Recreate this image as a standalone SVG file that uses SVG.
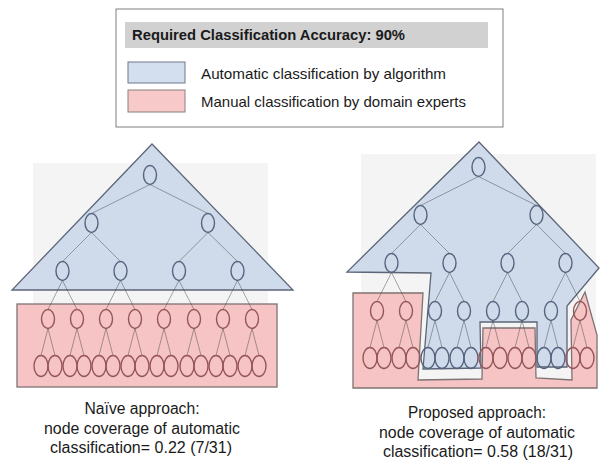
<svg xmlns="http://www.w3.org/2000/svg" width="603" height="462" viewBox="0 0 603 462">
<style>
.txt{font-family:"Liberation Sans",Arial,sans-serif;fill:#1a1a1a}
.bg{fill:#f4f4f4}
.blue{fill:#cfdaeb;stroke:#5c6577;stroke-width:1.3;stroke-linejoin:miter}
.pink{fill:#f6c4c4;stroke:#7f7272;stroke-width:1.3}
.nb{fill:none;stroke:#56657f;stroke-width:1.4}
.np{fill:none;stroke:#95565a;stroke-width:1.4}
#edges line{stroke:#404040;stroke-opacity:0.45;stroke-width:1}
</style>
<rect width="603" height="462" fill="#ffffff"/>
<g id="legend">
<rect x="116" y="9" width="387" height="118" fill="#ffffff" stroke="#7f7f7f" stroke-width="1"/>
<rect x="125" y="22" width="363" height="26" fill="#d1d1d1"/>
<text class="txt" x="132" y="40" font-size="15" font-weight="bold" textLength="273" lengthAdjust="spacingAndGlyphs">Required Classification Accuracy: 90%</text>
<rect x="128" y="62" width="57" height="21" fill="#d3deef" stroke="#6d7a8c" stroke-width="1"/>
<text class="txt" x="201" y="79" font-size="15" textLength="245" lengthAdjust="spacingAndGlyphs">Automatic classification by algorithm</text>
<rect x="128" y="90" width="57" height="22" fill="#f8c9c9" stroke="#8b7e7e" stroke-width="1"/>
<text class="txt" x="201" y="107" font-size="15" textLength="265" lengthAdjust="spacingAndGlyphs">Manual classification by domain experts</text>
</g>
<g id="regions">
<rect class="bg" x="33" y="163" width="235" height="224"/>
<polygon id="left-auto" class="blue" points="152,144 293,290 12,290"/>
<rect id="left-manual" class="pink" x="17" y="304" width="260" height="83"/>
<rect class="bg" x="361" y="154" width="235" height="234"/>
<polygon id="right-manual" class="pink" points="353,293 423,293 418,380 482,379 483,328 535,328 536,378 572,380 571,320 585,292 597,335 597,388 353,388"/>
<polygon id="right-auto" class="blue" points="479,142 599,268 567,306 567,367 537,367 537,322 480,322 481,368 423,369 431,273 347,272"/>
</g>
<g id="edges">
<line x1="150" y1="184.5" x2="91.5" y2="213.5"/><line x1="150" y1="184.5" x2="208" y2="213.5"/>
<line x1="91.5" y1="232.5" x2="62.5" y2="261.5"/><line x1="91.5" y1="232.5" x2="120.5" y2="261.5"/>
<line x1="208" y1="232.5" x2="179" y2="261.5"/><line x1="208" y1="232.5" x2="237.5" y2="261.5"/>
<line x1="62.5" y1="280.5" x2="48" y2="309.5"/><line x1="62.5" y1="280.5" x2="77" y2="309.5"/>
<line x1="120.5" y1="280.5" x2="106" y2="309.5"/><line x1="120.5" y1="280.5" x2="135" y2="309.5"/>
<line x1="179" y1="280.5" x2="164" y2="309.5"/><line x1="179" y1="280.5" x2="194" y2="309.5"/>
<line x1="237.5" y1="280.5" x2="223" y2="309.5"/><line x1="237.5" y1="280.5" x2="252" y2="309.5"/>
<line x1="48" y1="328.5" x2="41" y2="355.5"/><line x1="48" y1="328.5" x2="55" y2="355.5"/>
<line x1="77" y1="328.5" x2="70" y2="355.5"/><line x1="77" y1="328.5" x2="84" y2="355.5"/>
<line x1="106" y1="328.5" x2="99" y2="355.5"/><line x1="106" y1="328.5" x2="113" y2="355.5"/>
<line x1="135" y1="328.5" x2="128" y2="355.5"/><line x1="135" y1="328.5" x2="142" y2="355.5"/>
<line x1="164" y1="328.5" x2="157" y2="355.5"/><line x1="164" y1="328.5" x2="171" y2="355.5"/>
<line x1="194" y1="328.5" x2="187" y2="355.5"/><line x1="194" y1="328.5" x2="201" y2="355.5"/>
<line x1="223" y1="328.5" x2="216" y2="355.5"/><line x1="223" y1="328.5" x2="230" y2="355.5"/>
<line x1="252" y1="328.5" x2="245" y2="355.5"/><line x1="252" y1="328.5" x2="259" y2="355.5"/>
<line x1="478.5" y1="176.5" x2="420.5" y2="205.5"/><line x1="478.5" y1="176.5" x2="536.5" y2="205.5"/>
<line x1="420.5" y1="224.5" x2="391.5" y2="253.5"/><line x1="420.5" y1="224.5" x2="449.5" y2="253.5"/>
<line x1="536.5" y1="224.5" x2="507.5" y2="253.5"/><line x1="536.5" y1="224.5" x2="565.5" y2="253.5"/>
<line x1="391.5" y1="272.5" x2="377" y2="301.5"/><line x1="391.5" y1="272.5" x2="406" y2="301.5"/>
<line x1="449.5" y1="272.5" x2="435" y2="301.5"/><line x1="449.5" y1="272.5" x2="464" y2="301.5"/>
<line x1="507.5" y1="272.5" x2="493" y2="301.5"/><line x1="507.5" y1="272.5" x2="522" y2="301.5"/>
<line x1="565.5" y1="272.5" x2="551" y2="301.5"/><line x1="565.5" y1="272.5" x2="580" y2="301.5"/>
<line x1="377" y1="320.5" x2="370" y2="347.5"/><line x1="377" y1="320.5" x2="384" y2="347.5"/>
<line x1="406" y1="320.5" x2="399" y2="347.5"/><line x1="406" y1="320.5" x2="413" y2="347.5"/>
<line x1="435" y1="320.5" x2="428" y2="347.5"/><line x1="435" y1="320.5" x2="442" y2="347.5"/>
<line x1="464" y1="320.5" x2="457" y2="347.5"/><line x1="464" y1="320.5" x2="471" y2="347.5"/>
<line x1="493" y1="320.5" x2="486" y2="347.5"/><line x1="493" y1="320.5" x2="500" y2="347.5"/>
<line x1="522" y1="320.5" x2="515" y2="347.5"/><line x1="522" y1="320.5" x2="529" y2="347.5"/>
<line x1="551" y1="320.5" x2="544" y2="347.5"/><line x1="551" y1="320.5" x2="558" y2="347.5"/>
<line x1="580" y1="320.5" x2="573" y2="347.5"/><line x1="580" y1="320.5" x2="587" y2="347.5"/>
</g>
<g id="left-tree">
<g id="L-n1"><ellipse class="nb" cx="150" cy="175" rx="6.5" ry="9.5"/></g>
<g id="L-n2"><ellipse class="nb" cx="91.5" cy="223" rx="6.5" ry="9.5"/></g>
<g id="L-n3"><ellipse class="nb" cx="208" cy="223" rx="6.5" ry="9.5"/></g>
<g id="L-n4"><ellipse class="nb" cx="62.5" cy="271" rx="6.5" ry="9.5"/></g>
<g id="L-n5"><ellipse class="nb" cx="120.5" cy="271" rx="6.5" ry="9.5"/></g>
<g id="L-n6"><ellipse class="nb" cx="179" cy="271" rx="6.5" ry="9.5"/></g>
<g id="L-n7"><ellipse class="nb" cx="237.5" cy="271" rx="6.5" ry="9.5"/></g>
<g id="L-n8"><ellipse class="np" cx="48" cy="319" rx="6.5" ry="9.5"/></g>
<g id="L-n9"><ellipse class="np" cx="77" cy="319" rx="6.5" ry="9.5"/></g>
<g id="L-n10"><ellipse class="np" cx="106" cy="319" rx="6.5" ry="9.5"/></g>
<g id="L-n11"><ellipse class="np" cx="135" cy="319" rx="6.5" ry="9.5"/></g>
<g id="L-n12"><ellipse class="np" cx="164" cy="319" rx="6.5" ry="9.5"/></g>
<g id="L-n13"><ellipse class="np" cx="194" cy="319" rx="6.5" ry="9.5"/></g>
<g id="L-n14"><ellipse class="np" cx="223" cy="319" rx="6.5" ry="9.5"/></g>
<g id="L-n15"><ellipse class="np" cx="252" cy="319" rx="6.5" ry="9.5"/></g>
<g id="L-n16"><ellipse class="np" cx="41" cy="366" rx="7" ry="10.5"/></g>
<g id="L-n17"><ellipse class="np" cx="55" cy="366" rx="7" ry="10.5"/></g>
<g id="L-n18"><ellipse class="np" cx="70" cy="366" rx="7" ry="10.5"/></g>
<g id="L-n19"><ellipse class="np" cx="84" cy="366" rx="7" ry="10.5"/></g>
<g id="L-n20"><ellipse class="np" cx="99" cy="366" rx="7" ry="10.5"/></g>
<g id="L-n21"><ellipse class="np" cx="113" cy="366" rx="7" ry="10.5"/></g>
<g id="L-n22"><ellipse class="np" cx="128" cy="366" rx="7" ry="10.5"/></g>
<g id="L-n23"><ellipse class="np" cx="142" cy="366" rx="7" ry="10.5"/></g>
<g id="L-n24"><ellipse class="np" cx="157" cy="366" rx="7" ry="10.5"/></g>
<g id="L-n25"><ellipse class="np" cx="171" cy="366" rx="7" ry="10.5"/></g>
<g id="L-n26"><ellipse class="np" cx="187" cy="366" rx="7" ry="10.5"/></g>
<g id="L-n27"><ellipse class="np" cx="201" cy="366" rx="7" ry="10.5"/></g>
<g id="L-n28"><ellipse class="np" cx="216" cy="366" rx="7" ry="10.5"/></g>
<g id="L-n29"><ellipse class="np" cx="230" cy="366" rx="7" ry="10.5"/></g>
<g id="L-n30"><ellipse class="np" cx="245" cy="366" rx="7" ry="10.5"/></g>
<g id="L-n31"><ellipse class="np" cx="259" cy="366" rx="7" ry="10.5"/></g>
</g>
<g id="right-tree">
<g id="R-n1"><ellipse class="nb" cx="478.5" cy="167" rx="6.5" ry="9.5"/></g>
<g id="R-n2"><ellipse class="nb" cx="420.5" cy="215" rx="6.5" ry="9.5"/></g>
<g id="R-n3"><ellipse class="nb" cx="536.5" cy="215" rx="6.5" ry="9.5"/></g>
<g id="R-n4"><ellipse class="nb" cx="391.5" cy="263" rx="6.5" ry="9.5"/></g>
<g id="R-n5"><ellipse class="nb" cx="449.5" cy="263" rx="6.5" ry="9.5"/></g>
<g id="R-n6"><ellipse class="nb" cx="507.5" cy="263" rx="6.5" ry="9.5"/></g>
<g id="R-n7"><ellipse class="nb" cx="565.5" cy="263" rx="6.5" ry="9.5"/></g>
<g id="R-n8"><ellipse class="np" cx="377" cy="311" rx="6.5" ry="9.5"/></g>
<g id="R-n9"><ellipse class="np" cx="406" cy="311" rx="6.5" ry="9.5"/></g>
<g id="R-n10"><ellipse class="nb" cx="435" cy="311" rx="6.5" ry="9.5"/></g>
<g id="R-n11"><ellipse class="nb" cx="464" cy="311" rx="6.5" ry="9.5"/></g>
<g id="R-n12"><ellipse class="nb" cx="493" cy="311" rx="6.5" ry="9.5"/></g>
<g id="R-n13"><ellipse class="nb" cx="522" cy="311" rx="6.5" ry="9.5"/></g>
<g id="R-n14"><ellipse class="nb" cx="551" cy="311" rx="6.5" ry="9.5"/></g>
<g id="R-n15"><ellipse class="np" cx="580" cy="311" rx="6.5" ry="9.5"/></g>
<g id="R-n16"><ellipse class="np" cx="370" cy="358" rx="7" ry="10.5"/></g>
<g id="R-n17"><ellipse class="np" cx="384" cy="358" rx="7" ry="10.5"/></g>
<g id="R-n18"><ellipse class="np" cx="399" cy="358" rx="7" ry="10.5"/></g>
<g id="R-n19"><ellipse class="np" cx="413" cy="358" rx="7" ry="10.5"/></g>
<g id="R-n20"><ellipse class="nb" cx="428" cy="358" rx="7" ry="10.5"/></g>
<g id="R-n21"><ellipse class="nb" cx="442" cy="358" rx="7" ry="10.5"/></g>
<g id="R-n22"><ellipse class="nb" cx="457" cy="358" rx="7" ry="10.5"/></g>
<g id="R-n23"><ellipse class="nb" cx="471" cy="358" rx="7" ry="10.5"/></g>
<g id="R-n24"><ellipse class="np" cx="486" cy="358" rx="7" ry="10.5"/></g>
<g id="R-n25"><ellipse class="np" cx="500" cy="358" rx="7" ry="10.5"/></g>
<g id="R-n26"><ellipse class="np" cx="515" cy="358" rx="7" ry="10.5"/></g>
<g id="R-n27"><ellipse class="np" cx="529" cy="358" rx="7" ry="10.5"/></g>
<g id="R-n28"><ellipse class="nb" cx="544" cy="358" rx="7" ry="10.5"/></g>
<g id="R-n29"><ellipse class="nb" cx="558" cy="358" rx="7" ry="10.5"/></g>
<g id="R-n30"><ellipse class="np" cx="573" cy="358" rx="7" ry="10.5"/></g>
<g id="R-n31"><ellipse class="np" cx="587" cy="358" rx="7" ry="10.5"/></g>
</g>
<g id="captions" text-anchor="middle">
<text class="txt" x="142" y="414" font-size="16" textLength="115" lengthAdjust="spacingAndGlyphs">Naïve approach:</text>
<text class="txt" x="142" y="434" font-size="16" textLength="196" lengthAdjust="spacingAndGlyphs">node coverage of automatic</text>
<text class="txt" x="141" y="453" font-size="16" textLength="182" lengthAdjust="spacingAndGlyphs">classification= 0.22 (7/31)</text>
<text class="txt" x="477" y="418" font-size="16" textLength="138" lengthAdjust="spacingAndGlyphs">Proposed approach:</text>
<text class="txt" x="477" y="438" font-size="16" textLength="196" lengthAdjust="spacingAndGlyphs">node coverage of automatic</text>
<text class="txt" x="478" y="457" font-size="16" textLength="190" lengthAdjust="spacingAndGlyphs">classification= 0.58 (18/31)</text>
</g>
</svg>
